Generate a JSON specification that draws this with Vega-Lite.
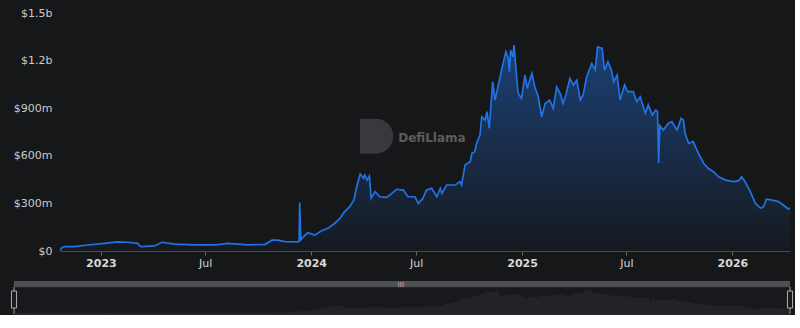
{
  "$schema": "https://vega.github.io/schema/vega-lite/v6.json",
  "background": "#161719",
  "padding": {"left": 9, "top": 7, "right": 0, "bottom": 0},
  "spacing": 13,
  "config": {"view": {"stroke": null}, "font": "DejaVu Sans"},
  "resolve": {"scale": {"x": "independent", "y": "independent"}},
  "datasets": {
    "tvl": [
      {"d": "2022-10-22", "v": 3}, {"d": "2022-10-26", "v": 22}, {"d": "2022-10-30", "v": 28}, {"d": "2022-11-16", "v": 28},
      {"d": "2022-12-09", "v": 38}, {"d": "2023-01-03", "v": 47}, {"d": "2023-01-30", "v": 58}, {"d": "2023-02-16", "v": 55},
      {"d": "2023-03-06", "v": 48}, {"d": "2023-03-10", "v": 30}, {"d": "2023-03-13", "v": 27}, {"d": "2023-04-04", "v": 32},
      {"d": "2023-04-17", "v": 55}, {"d": "2023-05-09", "v": 43}, {"d": "2023-06-13", "v": 38}, {"d": "2023-07-18", "v": 38},
      {"d": "2023-08-09", "v": 48}, {"d": "2023-09-13", "v": 38}, {"d": "2023-10-13", "v": 42}, {"d": "2023-10-25", "v": 68},
      {"d": "2023-11-04", "v": 69}, {"d": "2023-11-16", "v": 59}, {"d": "2023-12-09", "v": 58}, {"d": "2023-12-11", "v": 62},
      {"d": "2023-12-12", "v": 305}, {"d": "2023-12-14", "v": 70}, {"d": "2023-12-20", "v": 95}, {"d": "2023-12-26", "v": 115},
      {"d": "2024-01-07", "v": 100}, {"d": "2024-01-19", "v": 128}, {"d": "2024-01-30", "v": 143}, {"d": "2024-02-11", "v": 175},
      {"d": "2024-02-20", "v": 206}, {"d": "2024-02-28", "v": 248}, {"d": "2024-03-08", "v": 279}, {"d": "2024-03-15", "v": 321},
      {"d": "2024-03-20", "v": 405}, {"d": "2024-03-26", "v": 485}, {"d": "2024-04-01", "v": 458}, {"d": "2024-04-03", "v": 479},
      {"d": "2024-04-07", "v": 447}, {"d": "2024-04-11", "v": 472}, {"d": "2024-04-14", "v": 332}, {"d": "2024-04-21", "v": 374},
      {"d": "2024-04-29", "v": 342}, {"d": "2024-05-11", "v": 338}, {"d": "2024-05-20", "v": 363}, {"d": "2024-05-28", "v": 389},
      {"d": "2024-06-09", "v": 384}, {"d": "2024-06-17", "v": 342}, {"d": "2024-06-29", "v": 342}, {"d": "2024-07-05", "v": 300},
      {"d": "2024-07-13", "v": 332}, {"d": "2024-07-19", "v": 384}, {"d": "2024-07-28", "v": 395}, {"d": "2024-08-06", "v": 342},
      {"d": "2024-08-12", "v": 395}, {"d": "2024-08-15", "v": 363}, {"d": "2024-08-23", "v": 416}, {"d": "2024-09-07", "v": 416},
      {"d": "2024-09-15", "v": 437}, {"d": "2024-09-18", "v": 416}, {"d": "2024-09-24", "v": 542}, {"d": "2024-10-03", "v": 563},
      {"d": "2024-10-06", "v": 616}, {"d": "2024-10-11", "v": 626}, {"d": "2024-10-14", "v": 679}, {"d": "2024-10-20", "v": 731},
      {"d": "2024-10-23", "v": 846}, {"d": "2024-10-29", "v": 825}, {"d": "2024-11-01", "v": 878}, {"d": "2024-11-05", "v": 773},
      {"d": "2024-11-11", "v": 1067}, {"d": "2024-11-15", "v": 951}, {"d": "2024-11-24", "v": 1098}, {"d": "2024-11-29", "v": 1182},
      {"d": "2024-12-04", "v": 1256}, {"d": "2024-12-08", "v": 1214}, {"d": "2024-12-10", "v": 1130}, {"d": "2024-12-12", "v": 1266},
      {"d": "2024-12-16", "v": 1224}, {"d": "2024-12-18", "v": 1298}, {"d": "2024-12-22", "v": 1120}, {"d": "2024-12-25", "v": 994},
      {"d": "2024-12-31", "v": 962}, {"d": "2025-01-06", "v": 1109}, {"d": "2025-01-10", "v": 1025}, {"d": "2025-01-18", "v": 1120},
      {"d": "2025-01-23", "v": 1035}, {"d": "2025-01-29", "v": 972}, {"d": "2025-02-04", "v": 846}, {"d": "2025-02-10", "v": 930},
      {"d": "2025-02-18", "v": 951}, {"d": "2025-02-24", "v": 899}, {"d": "2025-03-02", "v": 1035}, {"d": "2025-03-08", "v": 994},
      {"d": "2025-03-13", "v": 930}, {"d": "2025-03-18", "v": 983}, {"d": "2025-03-25", "v": 1088}, {"d": "2025-03-31", "v": 1046},
      {"d": "2025-04-06", "v": 1077}, {"d": "2025-04-12", "v": 951}, {"d": "2025-04-17", "v": 983}, {"d": "2025-04-23", "v": 1098},
      {"d": "2025-05-02", "v": 1182}, {"d": "2025-05-08", "v": 1140}, {"d": "2025-05-12", "v": 1287}, {"d": "2025-05-20", "v": 1277},
      {"d": "2025-05-24", "v": 1140}, {"d": "2025-05-30", "v": 1193}, {"d": "2025-06-05", "v": 1140}, {"d": "2025-06-09", "v": 1067},
      {"d": "2025-06-15", "v": 1109}, {"d": "2025-06-20", "v": 951}, {"d": "2025-06-28", "v": 1046}, {"d": "2025-07-03", "v": 1004},
      {"d": "2025-07-13", "v": 1004}, {"d": "2025-07-19", "v": 941}, {"d": "2025-07-25", "v": 972}, {"d": "2025-08-03", "v": 868},
      {"d": "2025-08-08", "v": 920}, {"d": "2025-08-15", "v": 857}, {"d": "2025-08-21", "v": 888}, {"d": "2025-08-24", "v": 880},
      {"d": "2025-08-26", "v": 553}, {"d": "2025-08-28", "v": 790}, {"d": "2025-09-03", "v": 762}, {"d": "2025-09-12", "v": 805},
      {"d": "2025-09-18", "v": 815}, {"d": "2025-09-27", "v": 762}, {"d": "2025-10-04", "v": 836}, {"d": "2025-10-08", "v": 825},
      {"d": "2025-10-11", "v": 741}, {"d": "2025-10-17", "v": 679}, {"d": "2025-10-25", "v": 689}, {"d": "2025-11-03", "v": 616},
      {"d": "2025-11-12", "v": 553}, {"d": "2025-11-20", "v": 521}, {"d": "2025-11-29", "v": 500}, {"d": "2025-12-08", "v": 468},
      {"d": "2025-12-20", "v": 447}, {"d": "2026-01-03", "v": 437}, {"d": "2026-01-12", "v": 443}, {"d": "2026-01-17", "v": 468},
      {"d": "2026-01-23", "v": 437}, {"d": "2026-02-01", "v": 374}, {"d": "2026-02-10", "v": 300}, {"d": "2026-02-19", "v": 269},
      {"d": "2026-02-24", "v": 279}, {"d": "2026-03-01", "v": 326}, {"d": "2026-03-11", "v": 321}, {"d": "2026-03-22", "v": 311},
      {"d": "2026-04-03", "v": 279}, {"d": "2026-04-08", "v": 265}, {"d": "2026-04-11", "v": 272}
    ]
  },
  "vconcat": [
    {
      "width": 730,
      "height": 238,
      "data": {"name": "tvl"},
      "layer": [
        {
          "data": {"values": [{"t": "DefiLlama"}]},
          "mark": {"type": "text", "align": "left", "baseline": "middle", "fontSize": 12, "fontWeight": "bold", "color": "#5c5c5c"},
          "encoding": {
            "x": {"datum": {"year": 2024, "month": 5, "date": 31, "utc": true}, "type": "temporal"},
            "y": {"datum": 712, "type": "quantitative"},
            "text": {"field": "t"}
          }
        },
        {
          "data": {"values": [{}]},
          "mark": {"type": "point", "shape": "M-0.9,-1H0A1,1 0 0 1 0,1H-0.9Z", "filled": true, "color": "#38393c", "opacity": 1, "size": 1225},
          "encoding": {
            "x": {"datum": {"year": 2024, "month": 4, "date": 22, "utc": true}, "type": "temporal"},
            "y": {"datum": 724, "type": "quantitative"}
          }
        },
        {
          "mark": {
            "type": "area",
            "color": {
              "gradient": "linear", "x1": 0, "y1": 0, "x2": 0, "y2": 1,
              "stops": [
                {"offset": 0, "color": "rgba(33,114,229,0.45)"},
                {"offset": 1, "color": "rgba(33,114,229,0.03)"}
              ]
            }
          },
          "encoding": {
            "x": {
              "field": "d", "type": "temporal",
              "scale": {"type": "utc", "nice": false, "domain": [{"year": 2022, "month": 10, "date": 22, "utc": true}, {"year": 2026, "month": 4, "date": 11, "utc": true}]},
              "axis": {
                "title": null, "grid": false,
                "values": [
                  {"year": 2023, "month": 1, "date": 1, "utc": true}, {"year": 2023, "month": 7, "date": 1, "utc": true},
                  {"year": 2024, "month": 1, "date": 1, "utc": true}, {"year": 2024, "month": 7, "date": 1, "utc": true},
                  {"year": 2025, "month": 1, "date": 1, "utc": true}, {"year": 2025, "month": 7, "date": 1, "utc": true},
                  {"year": 2026, "month": 1, "date": 1, "utc": true}
                ],
                "labelExpr": "utcmonth(datum.value) == 0 ? utcFormat(datum.value, '%Y') : utcFormat(datum.value, '%b')",
                "labelFontWeight": {"condition": {"test": "utcmonth(datum.value) == 0", "value": "bold"}, "value": "normal"},
                "labelColor": "#d8d8d8", "labelFontSize": 11, "labelPadding": 2, "labelFlush": false, "labelOverlap": false,
                "domainColor": "#4a4b4e", "tickColor": "#6a6a6a", "tickSize": 4
              }
            },
            "y": {
              "field": "v", "type": "quantitative",
              "scale": {"domain": [0, 1500], "nice": false},
              "axis": {
                "title": null, "grid": false, "domain": false, "ticks": false, "tickSize": 0,
                "values": [0, 300, 600, 900, 1200, 1500],
                "labelExpr": "datum.value == 0 ? '$0' : (datum.value >= 1000 ? '$' + format(datum.value / 1000, '.1f') + 'b' : '$' + datum.value + 'm')",
                "labelColor": "#cccccc", "labelFontSize": 11, "labelPadding": 8
              }
            }
          }
        },
        {
          "mark": {"type": "line", "color": "#2172E5", "strokeWidth": 1.7},
          "encoding": {
            "x": {"field": "d", "type": "temporal"},
            "y": {"field": "v", "type": "quantitative"}
          }
        }
      ]
    },
    {
      "width": 730,
      "height": 33,
      "layer": [
        {
          "data": {"values": [{}]},
          "mark": {"type": "rect", "fill": "#18191c", "stroke": "#3a3b3e", "strokeWidth": 1},
          "encoding": {
            "x": {"datum": {"year": 2022, "month": 10, "date": 22, "utc": true}, "type": "temporal", "axis": null,
                  "scale": {"type": "utc", "nice": false, "range": [-46, 730], "domain": [{"year": 2022, "month": 10, "date": 22, "utc": true}, {"year": 2026, "month": 4, "date": 11, "utc": true}]}},
            "x2": {"datum": {"year": 2026, "month": 4, "date": 11, "utc": true}},
            "y": {"datum": 0, "type": "quantitative", "axis": null, "scale": {"domain": [0, 1800], "nice": false}},
            "y2": {"datum": 1480}
          }
        },
        {
          "data": {"name": "tvl"},
          "mark": {"type": "area", "color": "#222327"},
          "encoding": {
            "x": {"field": "d", "type": "temporal"},
            "y": {"field": "v", "type": "quantitative"}
          }
        },
        {
          "data": {"values": [{}]},
          "mark": {"type": "rect", "fill": "#4f5053"},
          "encoding": {
            "x": {"datum": {"year": 2022, "month": 10, "date": 22, "utc": true}, "type": "temporal"},
            "x2": {"datum": {"year": 2026, "month": 4, "date": 11, "utc": true}},
            "y": {"datum": 1480, "type": "quantitative"},
            "y2": {"datum": 1800}
          }
        },
        {
          "data": {"values": [{"d": "2022-10-22"}, {"d": "2026-04-11"}]},
          "mark": {"type": "rule", "color": "#8a8a8a", "strokeWidth": 1},
          "encoding": {
            "x": {"field": "d", "type": "temporal"},
            "y": {"datum": 0, "type": "quantitative"},
            "y2": {"datum": 1480}
          }
        },
        {
          "data": {"values": [{"d": "2022-10-22"}, {"d": "2026-04-11"}]},
          "mark": {"type": "point", "shape": "M-0.3,-1H0.3V1H-0.3Z", "filled": true, "fill": "#1b1c1f", "stroke": "#b0b0b0", "strokeWidth": 1, "opacity": 1, "size": 289},
          "encoding": {
            "x": {"field": "d", "type": "temporal"},
            "y": {"datum": 790, "type": "quantitative"}
          }
        },
        {
          "data": {"values": [{"t": "||||"}]},
          "mark": {"type": "text", "fontSize": 5, "color": "#dddddd", "align": "center", "baseline": "middle"},
          "encoding": {
            "x": {"datum": {"year": 2024, "month": 7, "date": 15, "utc": true}, "type": "temporal"},
            "y": {"datum": 1640, "type": "quantitative"},
            "text": {"field": "t"}
          }
        }
      ]
    }
  ]
}
